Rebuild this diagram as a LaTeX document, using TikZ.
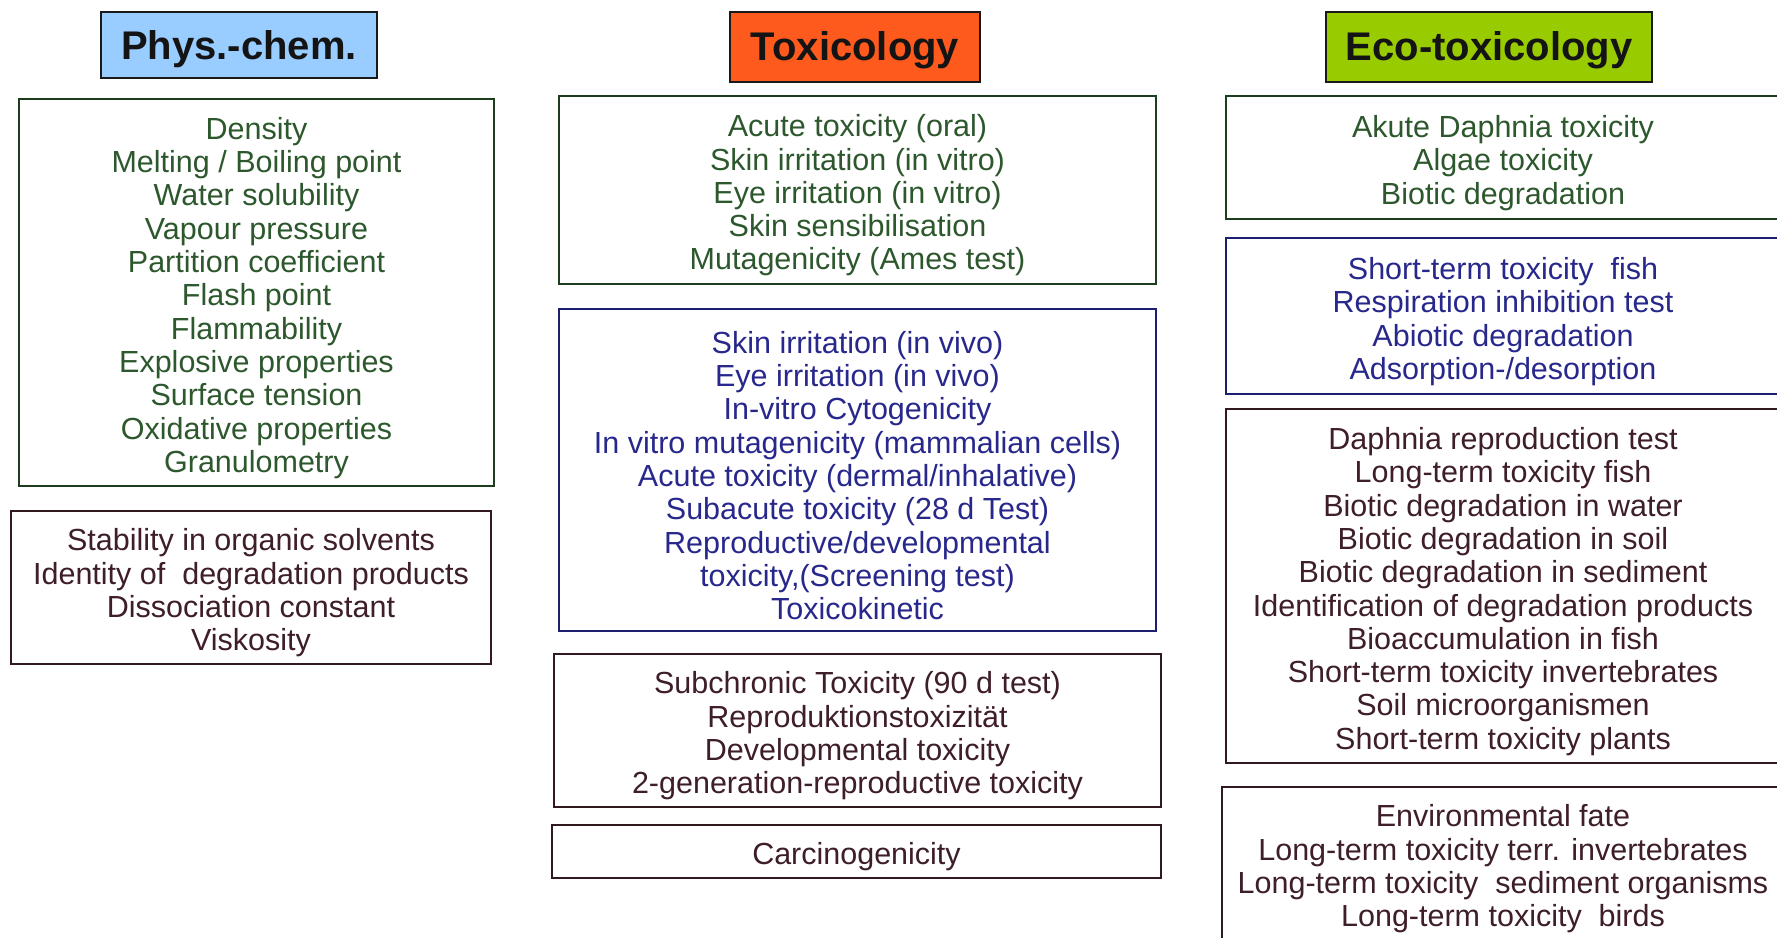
\documentclass[tikz,border=0pt]{standalone}
\usepackage{fontspec}
\setmainfont{Liberation Sans}
\definecolor{grntext}{RGB}{45,88,45}
\definecolor{grnline}{RGB}{30,60,30}
\definecolor{blutext}{RGB}{40,40,140}
\definecolor{bluline}{RGB}{30,30,110}
\definecolor{brntext}{RGB}{62,30,40}
\definecolor{brnline}{RGB}{50,25,30}
\definecolor{hdrline}{RGB}{25,25,25}
\definecolor{physfill}{RGB}{153,204,255}
\definecolor{toxfill}{RGB}{255,90,30}
\definecolor{ecofill}{RGB}{153,204,0}
\tikzset{
  hdrbox/.style={draw=hdrline, line width=2pt, inner sep=0pt, anchor=center},
  hdrtxt/.style={inner sep=0pt, anchor=center,
    font=\fontsize{40}{44}\selectfont\bfseries, text={rgb,255:red,20;green,20;blue,20}},
  frame/.style={line width=2pt, inner sep=0pt, anchor=center},
  lst/.style={inner sep=0pt, align=center, anchor=center,
    font=\fontsize{30.5}{33.3}\selectfont},
  grnbox/.style={frame, draw=grnline},
  blubox/.style={frame, draw=bluline},
  brnbox/.style={frame, draw=brnline},
  grntxt/.style={lst, text=grntext},
  blutxt/.style={lst, text=blutext},
  brntxt/.style={lst, text=brntext}
}
% #1 name, #2 colour key, #3 centre, #4 width, #5 height, #6 text
\newcommand\listbox[6]{%
  \node[#2box, minimum width=#4pt, minimum height=#5pt] (#1) at #3 {};
  \node[#2txt] (#1-t) at ([yshift=-5.5pt]#1.center) {#6};
}
\newcommand\hdrnode[5]{%
  \node[hdrbox, fill=#2, minimum width=#4pt, minimum height=66pt] (#1) at #3 {};
  \node[hdrtxt] (#1-t) at ([yshift=-4pt]#1.center) {#5};
}
\begin{document}
\begin{tikzpicture}[x=1pt,y=-1pt]
\useasboundingbox (0,0) rectangle (1777,937);
\fill[white] (0,0) rectangle (1777,937);
\clip (0,0) rectangle (1777,937);
% headers
\node[hdrbox, fill=physfill, minimum width=276pt, minimum height=66pt] (hphys) at (239,45) {};
\node[hdrtxt] (hphys-t) at ([yshift=-4pt]hphys.center) {Phys.-chem.};
\node[hdrbox, fill=toxfill, minimum width=250pt, minimum height=70pt] (htox) at (855,47) {};
\node[hdrtxt] (htox-t) at ([yshift=-3pt]htox.center) {Toxicology};
\node[hdrbox, fill=ecofill, minimum width=326pt, minimum height=70pt] (heco) at (1489,47) {};
\node[hdrtxt] (heco-t) at ([yshift=-3pt]heco.center) {Eco-toxicology};
% Phys.-chem.
\listbox{p1}{grn}{(256.5,292.5)}{475}{387}{Density\\Melting / Boiling point\\Water solubility\\Vapour pressure\\Partition coefficient\\Flash point\\Flammability\\Explosive properties\\Surface tension\\Oxidative properties\\Granulometry}
\listbox{p2}{brn}{(251,587.5)}{480}{153}{Stability in organic solvents\\Identity of~ degradation products\\Dissociation constant\\Viskosity}
% Toxicology
\listbox{t1}{grn}{(857.5,190)}{597}{188}{Acute toxicity (oral)\\Skin irritation (in vitro)\\Eye irritation (in vitro)\\Skin sensibilisation\\Mutagenicity (Ames test)}
\listbox{t2}{blu}{(857.5,470)}{597}{322}{Skin irritation (in vivo)\\Eye irritation (in vivo)\\In-vitro Cytogenicity\\In vitro mutagenicity (mammalian cells)\\Acute toxicity (dermal/inhalative)\\Subacute toxicity (28 d Test)\\Reproductive/developmental\\toxicity,(Screening test)\\Toxicokinetic}
\listbox{t3}{brn}{(857.5,730.5)}{607}{153}{Subchronic Toxicity (90 d test)\\Reproduktionstoxizität\\Developmental toxicity\\2-generation-reproductive toxicity}
\listbox{t4}{brn}{(856.5,851.5)}{609}{53}{Carcinogenicity}
% Eco-toxicology
\listbox{e1}{grn}{(1503,157.5)}{554}{123}{Akute Daphnia toxicity\\Algae toxicity\\Biotic degradation}
\listbox{e2}{blu}{(1503,316)}{554}{156}{Short-term toxicity~ fish\\Respiration inhibition test\\Abiotic degradation\\Adsorption-/desorption}
\listbox{e3}{brn}{(1503,586)}{554}{354}{Daphnia reproduction test\\Long-term toxicity fish\\Biotic degradation in water\\Biotic degradation in soil\\Biotic degradation in sediment\\Identification of degradation products\\Bioaccumulation in fish\\Short-term toxicity invertebrates\\Soil microorganismen\\Short-term toxicity plants}
\listbox{e4}{brn}{(1503,863.5)}{562}{153}{Environmental fate\\Long-term toxicity terr. invertebrates\\Long-term toxicity~ sediment organisms\\Long-term toxicity~ birds}
\end{tikzpicture}
\end{document}
